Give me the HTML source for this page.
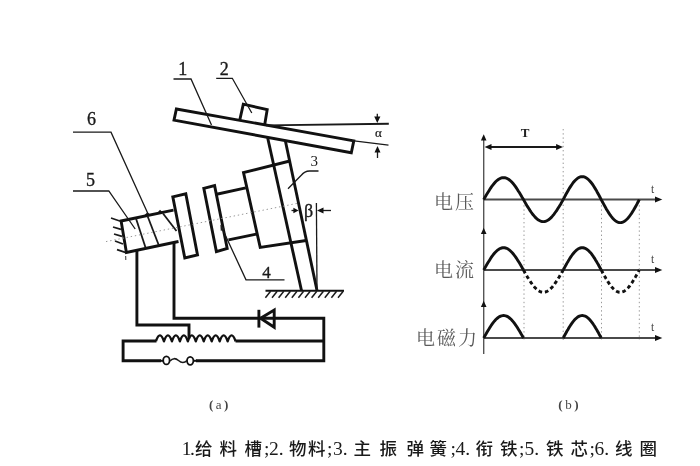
<!DOCTYPE html>
<html><head><meta charset="utf-8"><title>figure</title>
<style>
html,body{margin:0;padding:0;background:#fff;}
body{width:700px;height:466px;overflow:hidden;}
svg{display:block;filter:blur(0.55px);}
.k{stroke:#111;stroke-width:2.9;fill:none;stroke-linejoin:miter;stroke-linecap:butt;}
.n{stroke:#1a1a1a;stroke-width:1.3;fill:none;}
.d{stroke:#999;stroke-width:1;fill:none;stroke-dasharray:1.4 2.8;}
.num{font-family:"Liberation Serif",serif;font-size:18px;fill:#1a1a1a;stroke:#1a1a1a;stroke-width:0.35;}
.cj{font-family:"Liberation Serif","Noto Serif CJK SC",serif;font-size:19px;fill:#5a5a5a;letter-spacing:2px;font-weight:400;}
.cap{font-family:"Liberation Serif","Noto Sans CJK SC",sans-serif;font-size:17.5px;fill:#1a1a1a;font-weight:500;}
.lat{font-size:19.5px;}
.sm{font-family:"Liberation Serif",serif;font-size:12px;fill:#444;}
</style></head><body>
<svg width="700" height="466" viewBox="0 0 700 466">
<rect width="700" height="466" fill="#fff"/>
<g id="mech">
<polygon class="k" points="176.4,109 353.8,140.8 351.3,152.7 174,120.1"/>
<polyline class="k" points="239.6,120.8 243.3,104.2 267.2,109.7 264.6,125.3"/>
<line class="k" x1="267.7" y1="138" x2="301.5" y2="290.5"/>
<line class="k" x1="285.5" y1="141.5" x2="317" y2="290.5"/>
<polyline class="k" points="289.8,161 243.5,172.5 260.2,247.4 306.2,240.5"/>
<polyline class="k" points="245.8,187.8 215.5,194.5"/>
<polyline class="k" points="228.5,239.8 257.5,233.8"/>
<polygon class="k" points="203.8,188.4 214.6,185.6 227.2,248.5 216.4,251.6"/>
<polygon class="k" points="172.8,196.8 185.8,193.8 197.5,255 184.8,258"/>
<polyline class="k" points="173.5,210.2 121.1,221 126.4,252.5 178.5,241.5"/>
<polyline class="k" points="136.9,250 136.9,325 189,325 189,338.5"/>
<polyline class="k" points="174,242 174,318.2 323.8,318.2 323.8,360.8 196,360.8"/>
<polyline class="k" points="161,360.8 123.1,360.8 123.1,341 156.5,341"/>
<line class="k" x1="235.5" y1="341" x2="323.8" y2="341"/>
</g>
<g id="detail">
<path class="k" style="stroke-width:2.3;stroke-linejoin:round" d="M156,341 Q159.98,329.5 163.96,341.3 Q167.94,329.5 171.92,341.3 Q175.90,329.5 179.88,341.3 Q183.86,329.5 187.84,341.3 Q191.82,329.5 195.80,341.3 Q199.78,329.5 203.76,341.3 Q207.74,329.5 211.72,341.3 Q215.70,329.5 219.68,341.3 Q223.66,329.5 227.64,341.3 Q231.62,329.5 235.60,341.3"/>
<line class="k" x1="258.9" y1="309.8" x2="258.9" y2="327.6"/>
<polygon class="k" points="260.6,318.3 274.2,310 274.2,327.2"/>
<ellipse class="k" style="stroke-width:1.8" cx="166.4" cy="360.4" rx="3.2" ry="4"/>
<ellipse class="k" style="stroke-width:1.8" cx="190.2" cy="360.8" rx="3.2" ry="4"/>
<line class="k" style="stroke-width:2" x1="193.5" y1="360.8" x2="197" y2="360.8"/>
<line class="k" style="stroke-width:2" x1="160" y1="360.8" x2="163.5" y2="360.8"/>
<path class="n" style="stroke-width:1.5" d="M170,361 q4,-4.5 8.5,-0.5 t8.5,0"/>
<line class="k" style="stroke-width:2" x1="265.5" y1="290.8" x2="344" y2="290.8"/>
<line class="n" style="stroke-width:1.5" x1="270.6" y1="291.3" x2="265.4" y2="297.8"/>
<line class="n" style="stroke-width:1.5" x1="277.2" y1="291.3" x2="272.0" y2="297.8"/>
<line class="n" style="stroke-width:1.5" x1="283.8" y1="291.3" x2="278.6" y2="297.8"/>
<line class="n" style="stroke-width:1.5" x1="290.4" y1="291.3" x2="285.2" y2="297.8"/>
<line class="n" style="stroke-width:1.5" x1="297.0" y1="291.3" x2="291.8" y2="297.8"/>
<line class="n" style="stroke-width:1.5" x1="303.6" y1="291.3" x2="298.4" y2="297.8"/>
<line class="n" style="stroke-width:1.5" x1="310.2" y1="291.3" x2="305.0" y2="297.8"/>
<line class="n" style="stroke-width:1.5" x1="316.8" y1="291.3" x2="311.6" y2="297.8"/>
<line class="n" style="stroke-width:1.5" x1="323.4" y1="291.3" x2="318.2" y2="297.8"/>
<line class="n" style="stroke-width:1.5" x1="330.0" y1="291.3" x2="324.8" y2="297.8"/>
<line class="n" style="stroke-width:1.5" x1="336.6" y1="291.3" x2="331.4" y2="297.8"/>
<line class="n" style="stroke-width:1.5" x1="343.2" y1="291.3" x2="338.0" y2="297.8"/>
<line class="n" style="stroke-width:1.7" x1="111" y1="218" x2="120.5" y2="221.2"/>
<line class="n" style="stroke-width:1.7" x1="113" y1="227" x2="121" y2="229.4"/>
<line class="n" style="stroke-width:1.7" x1="114" y1="234" x2="122" y2="236.4"/>
<line class="n" style="stroke-width:1.7" x1="115" y1="241" x2="123" y2="244"/>
<line class="n" style="stroke-width:1.7" x1="117" y1="249.6" x2="126" y2="252.6"/>
<line class="n" style="stroke-width:1.2;stroke:#555" x1="125.6" y1="256" x2="125.8" y2="260"/>
<polygon points="144,215.6 147.5,212.2 150,214.6" fill="#111"/>
<polygon points="157,213.3 160,209.8 162.5,212.3" fill="#111"/>
<line class="n" style="stroke-width:1.8" x1="136" y1="218.5" x2="145.5" y2="247.5"/>
<line class="n" style="stroke-width:1.8" x1="147.5" y1="216" x2="158.7" y2="245"/>
<line class="n" style="stroke-width:1.8" x1="163" y1="213.5" x2="176.5" y2="231"/>
<line class="d" x1="106" y1="241.6" x2="297" y2="203.4"/>
<line class="n" x1="316.4" y1="203" x2="317" y2="290"/>
<line class="n" x1="291.5" y1="210.5" x2="295" y2="210.5"/>
<polygon points="298.6,210.5 293.4,207.8 293.4,213.2" fill="#111"/>
<line class="n" x1="322" y1="210.5" x2="331" y2="210.5"/>
<polygon points="317,210.5 323.5,207.6 323.5,213.4" fill="#111"/>
<text class="num" style="font-size:18px" x="304" y="216.5">β</text>
<line class="n" style="stroke-width:1.9" x1="266" y1="125.4" x2="388.8" y2="123.7"/>
<line class="n" x1="352" y1="140.6" x2="388.5" y2="145.2"/>
<line class="n" x1="377.3" y1="113.8" x2="377.3" y2="119"/>
<polygon points="377.3,123 374.2,116.5 380.4,116.5" fill="#111"/>
<line class="n" x1="377.5" y1="151" x2="377.5" y2="158"/>
<polygon points="377.5,146 374.5,152.5 380.5,152.5" fill="#111"/>
<text class="num" style="font-size:13px;stroke-width:0.2" x="375" y="137">α</text>
<polyline class="n" points="173.5,79 191,79 211.5,125"/>
<polyline class="n" points="216.2,78.3 232.3,78.3 251.8,113"/>
<polyline class="n" points="73,132.2 111,132.2 148.3,214.5"/>
<polyline class="n" points="73,191 108.8,191 135.2,229"/>
<path class="n" d="M318.5,171 L309.5,171 Q304.5,171.2 301.5,175 L288,188.8"/>
<polyline class="n" points="221.5,227 246,279.8 284.5,279.8"/>
<polygon points="220.3,224.5 220.8,231 224.6,229" fill="#222"/>
<text class="num" x="178.2" y="75.2">1</text>
<text class="num" x="219.8" y="74.8">2</text>
<text class="num" x="310.5" y="166" style="font-size:15px;stroke-width:0">3</text>
<text class="num" x="262.3" y="277.8" style="font-size:17px">4</text>
<text class="num" x="86" y="186">5</text>
<text class="num" x="87" y="125">6</text>
<text class="sm" style="font-size:13px;letter-spacing:2.4px" x="209" y="409.3"><tspan font-weight="bold">(</tspan>a<tspan font-weight="bold">)</tspan></text>
</g>
<g id="graph">
<line class="n" style="stroke-width:1.4;stroke:#555" x1="483.7" y1="139" x2="483.7" y2="354"/>
<polygon points="483.7,134.2 480.9,140.5 486.5,140.5" fill="#111"/>
<polygon points="483.7,227.8 480.9,234.10000000000002 486.5,234.10000000000002" fill="#111"/>
<polygon points="483.7,300.8 480.9,307.1 486.5,307.1" fill="#111"/>
<line class="n" style="stroke-width:2;stroke:#4a4a4a" x1="483.7" y1="199.6" x2="657" y2="199.6"/>
<polygon points="662.3,199.6 655,196.6 655,202.6" fill="#111"/>
<line class="n" style="stroke-width:2;stroke:#4a4a4a" x1="483.7" y1="270" x2="657" y2="270"/>
<polygon points="662.3,270 655,267 655,273" fill="#111"/>
<line class="n" style="stroke-width:2;stroke:#4a4a4a" x1="483.7" y1="338" x2="657" y2="338"/>
<polygon points="662.3,338 655,335 655,341" fill="#111"/>
<text class="sm" style="font-size:11.5px;fill:#444" x="651" y="192.5">t</text>
<text class="sm" style="font-size:11.5px;fill:#444" x="651" y="262.5">t</text>
<text class="sm" style="font-size:11.5px;fill:#444" x="651" y="331">t</text>
<line class="d" x1="563.2" y1="129" x2="563.2" y2="340"/>
<line class="d" x1="524" y1="201" x2="524" y2="340"/>
<line class="d" x1="601.5" y1="201" x2="601.5" y2="340"/>
<line class="d" x1="639.3" y1="201" x2="639.3" y2="340"/>
<line class="n" style="stroke-width:1.8" x1="488" y1="147" x2="559" y2="147"/>
<polygon points="484.6,147 491.5,143.9 491.5,150.1" fill="#111"/>
<polygon points="563,147 556.1,143.9 556.1,150.1" fill="#111"/>
<text class="sm" style="font-size:13px;font-weight:bold;fill:#222" x="520.8" y="137.3">T</text>
<path class="k" style="stroke-width:2.9" d="M483.7,199.6 L485.0,197.3 L486.3,195.0 L487.7,192.8 L489.0,190.7 L490.3,188.6 L491.6,186.7 L493.0,184.9 L494.3,183.3 L495.6,181.8 L496.9,180.5 L498.3,179.5 L499.6,178.7 L500.9,178.1 L502.2,177.7 L503.6,177.6 L504.9,177.7 L506.2,178.1 L507.6,178.7 L508.9,179.5 L510.2,180.5 L511.5,181.8 L512.9,183.3 L514.2,184.9 L515.5,186.7 L516.8,188.6 L518.1,190.7 L519.5,192.8 L520.8,195.0 L522.1,197.3 L523.5,199.6 L524.8,201.9 L526.1,204.2 L527.4,206.4 L528.8,208.5 L530.1,210.6 L531.4,212.5 L532.7,214.3 L534.1,215.9 L535.4,217.4 L536.7,218.7 L538.0,219.7 L539.4,220.5 L540.7,221.1 L542.0,221.5 L543.3,221.6 L544.7,221.5 L546.0,221.1 L547.3,220.5 L548.6,219.7 L550.0,218.7 L551.3,217.4 L552.6,215.9 L553.9,214.3 L555.2,212.5 L556.6,210.6 L557.9,208.5 L559.2,206.4 L560.6,204.2 L561.9,201.9 L563.2,199.6"/>
<path class="k" style="stroke-width:2.9" d="M563.2,199.6 L564.5,197.2 L565.7,194.8 L567.0,192.5 L568.3,190.2 L569.5,188.1 L570.8,186.1 L572.1,184.2 L573.3,182.5 L574.6,181.0 L575.9,179.7 L577.2,178.6 L578.4,177.7 L579.7,177.1 L581.0,176.7 L582.2,176.6 L583.5,176.7 L584.8,177.1 L586.0,177.7 L587.3,178.6 L588.6,179.7 L589.8,181.0 L591.1,182.5 L592.4,184.2 L593.6,186.1 L594.9,188.1 L596.2,190.2 L597.4,192.5 L598.7,194.8 L600.0,197.2 L601.2,199.6 L602.5,202.0 L603.8,204.4 L605.1,206.7 L606.3,209.0 L607.6,211.1 L608.9,213.1 L610.1,215.0 L611.4,216.7 L612.7,218.2 L613.9,219.5 L615.2,220.6 L616.5,221.5 L617.7,222.1 L619.0,222.5 L620.3,222.6 L621.5,222.5 L622.8,222.1 L624.1,221.5 L625.3,220.6 L626.6,219.5 L627.9,218.2 L629.2,216.7 L630.4,215.0 L631.7,213.1 L633.0,211.1 L634.2,209.0 L635.5,206.7 L636.8,204.4 L638.0,202.0 L639.3,199.6"/>
<path class="k" style="stroke-width:2.9" d="M483.7,270.0 L484.7,268.3 L485.7,266.5 L486.7,264.8 L487.7,263.1 L488.7,261.5 L489.7,259.9 L490.7,258.3 L491.6,256.9 L492.6,255.5 L493.6,254.2 L494.6,253.0 L495.6,252.0 L496.6,251.0 L497.6,250.1 L498.6,249.4 L499.6,248.8 L500.6,248.3 L501.6,248.0 L502.6,247.8 L503.6,247.7 L504.6,247.8 L505.6,248.0 L506.6,248.3 L507.6,248.8 L508.5,249.4 L509.5,250.1 L510.5,251.0 L511.5,252.0 L512.5,253.0 L513.5,254.2 L514.5,255.5 L515.5,256.9 L516.5,258.3 L517.5,259.9 L518.5,261.5 L519.5,263.1 L520.5,264.8 L521.5,266.5 L522.5,268.3 L523.5,270.0"/>
<path class="k" style="stroke-width:2.9;stroke-dasharray:3.7 2.8" d="M523.5,270.0 L524.4,271.7 L525.4,273.5 L526.4,275.2 L527.4,276.9 L528.4,278.5 L529.4,280.1 L530.4,281.7 L531.4,283.1 L532.4,284.5 L533.4,285.8 L534.4,287.0 L535.4,288.0 L536.4,289.0 L537.4,289.9 L538.4,290.6 L539.4,291.2 L540.3,291.7 L541.3,292.0 L542.3,292.2 L543.3,292.3 L544.3,292.2 L545.3,292.0 L546.3,291.7 L547.3,291.2 L548.3,290.6 L549.3,289.9 L550.3,289.0 L551.3,288.0 L552.3,287.0 L553.3,285.8 L554.3,284.5 L555.2,283.1 L556.2,281.7 L557.2,280.1 L558.2,278.5 L559.2,276.9 L560.2,275.2 L561.2,273.5 L562.2,271.7 L563.2,270.0"/>
<path class="k" style="stroke-width:2.9" d="M483.7,338.0 L484.7,336.2 L485.7,334.5 L486.7,332.7 L487.7,331.0 L488.7,329.4 L489.7,327.8 L490.7,326.2 L491.6,324.8 L492.6,323.4 L493.6,322.1 L494.6,320.9 L495.6,319.8 L496.6,318.8 L497.6,318.0 L498.6,317.2 L499.6,316.6 L500.6,316.1 L501.6,315.8 L502.6,315.6 L503.6,315.5 L504.6,315.6 L505.6,315.8 L506.6,316.1 L507.6,316.6 L508.5,317.2 L509.5,318.0 L510.5,318.8 L511.5,319.8 L512.5,320.9 L513.5,322.1 L514.5,323.4 L515.5,324.8 L516.5,326.2 L517.5,327.8 L518.5,329.4 L519.5,331.0 L520.5,332.7 L521.5,334.5 L522.5,336.2 L523.5,338.0"/>
<path class="k" style="stroke-width:2.9" d="M563.2,270.0 L564.2,268.3 L565.1,266.5 L566.1,264.8 L567.0,263.1 L568.0,261.5 L568.9,259.9 L569.9,258.3 L570.8,256.9 L571.8,255.5 L572.7,254.2 L573.7,253.0 L574.6,252.0 L575.6,251.0 L576.5,250.1 L577.5,249.4 L578.4,248.8 L579.4,248.3 L580.3,248.0 L581.3,247.8 L582.2,247.7 L583.2,247.8 L584.1,248.0 L585.1,248.3 L586.0,248.8 L587.0,249.4 L587.9,250.1 L588.9,251.0 L589.8,252.0 L590.8,253.0 L591.7,254.2 L592.7,255.5 L593.6,256.9 L594.6,258.3 L595.5,259.9 L596.5,261.5 L597.4,263.1 L598.4,264.8 L599.3,266.5 L600.3,268.3 L601.2,270.0"/>
<path class="k" style="stroke-width:2.9;stroke-dasharray:3.7 2.8" d="M601.2,270.0 L602.2,271.7 L603.2,273.5 L604.1,275.2 L605.1,276.9 L606.0,278.5 L607.0,280.1 L607.9,281.7 L608.9,283.1 L609.8,284.5 L610.8,285.8 L611.7,287.0 L612.7,288.0 L613.6,289.0 L614.6,289.9 L615.5,290.6 L616.5,291.2 L617.4,291.7 L618.4,292.0 L619.3,292.2 L620.3,292.3 L621.2,292.2 L622.2,292.0 L623.1,291.7 L624.1,291.2 L625.0,290.6 L626.0,289.9 L626.9,289.0 L627.9,288.0 L628.8,287.0 L629.8,285.8 L630.7,284.5 L631.7,283.1 L632.6,281.7 L633.6,280.1 L634.5,278.5 L635.5,276.9 L636.4,275.2 L637.4,273.5 L638.3,271.7 L639.3,270.0"/>
<path class="k" style="stroke-width:2.9" d="M563.2,338.0 L564.2,336.2 L565.1,334.5 L566.1,332.7 L567.0,331.0 L568.0,329.4 L568.9,327.8 L569.9,326.2 L570.8,324.8 L571.8,323.4 L572.7,322.1 L573.7,320.9 L574.6,319.8 L575.6,318.8 L576.5,318.0 L577.5,317.2 L578.4,316.6 L579.4,316.1 L580.3,315.8 L581.3,315.6 L582.2,315.5 L583.2,315.6 L584.1,315.8 L585.1,316.1 L586.0,316.6 L587.0,317.2 L587.9,318.0 L588.9,318.8 L589.8,319.8 L590.8,320.9 L591.7,322.1 L592.7,323.4 L593.6,324.8 L594.6,326.2 L595.5,327.8 L596.5,329.4 L597.4,331.0 L598.4,332.7 L599.3,334.5 L600.3,336.2 L601.2,338.0"/>
<text class="cj" x="434" y="209.3">电压</text>
<text class="cj" x="434" y="277">电流</text>
<text class="cj" x="416" y="345">电磁力</text>
<text class="sm" style="font-size:13px;letter-spacing:2.6px" x="558.3" y="409"><tspan font-weight="bold">(</tspan>b<tspan font-weight="bold">)</tspan></text>
</g>
<text class="cap" y="455" x="181.8 190.0 195.1 219.6 244.6 264.1 269.1 278.8 289.1 308.1 327.1 333.1 342.8 353.6 379.6 406.6 429.6 450.6 455.6 465.3 475.6 500.1 519.1 524.6 534.3 546.1 570.6 589.6 594.6 604.3 615.1 639.6"><tspan class="lat">1.</tspan>给料槽<tspan class="lat">;2.</tspan>物料<tspan class="lat">;3.</tspan>主振弹簧<tspan class="lat">;4.</tspan>衔铁<tspan class="lat">;5.</tspan>铁芯<tspan class="lat">;6.</tspan>线圈</text>
</svg>
</body></html>
